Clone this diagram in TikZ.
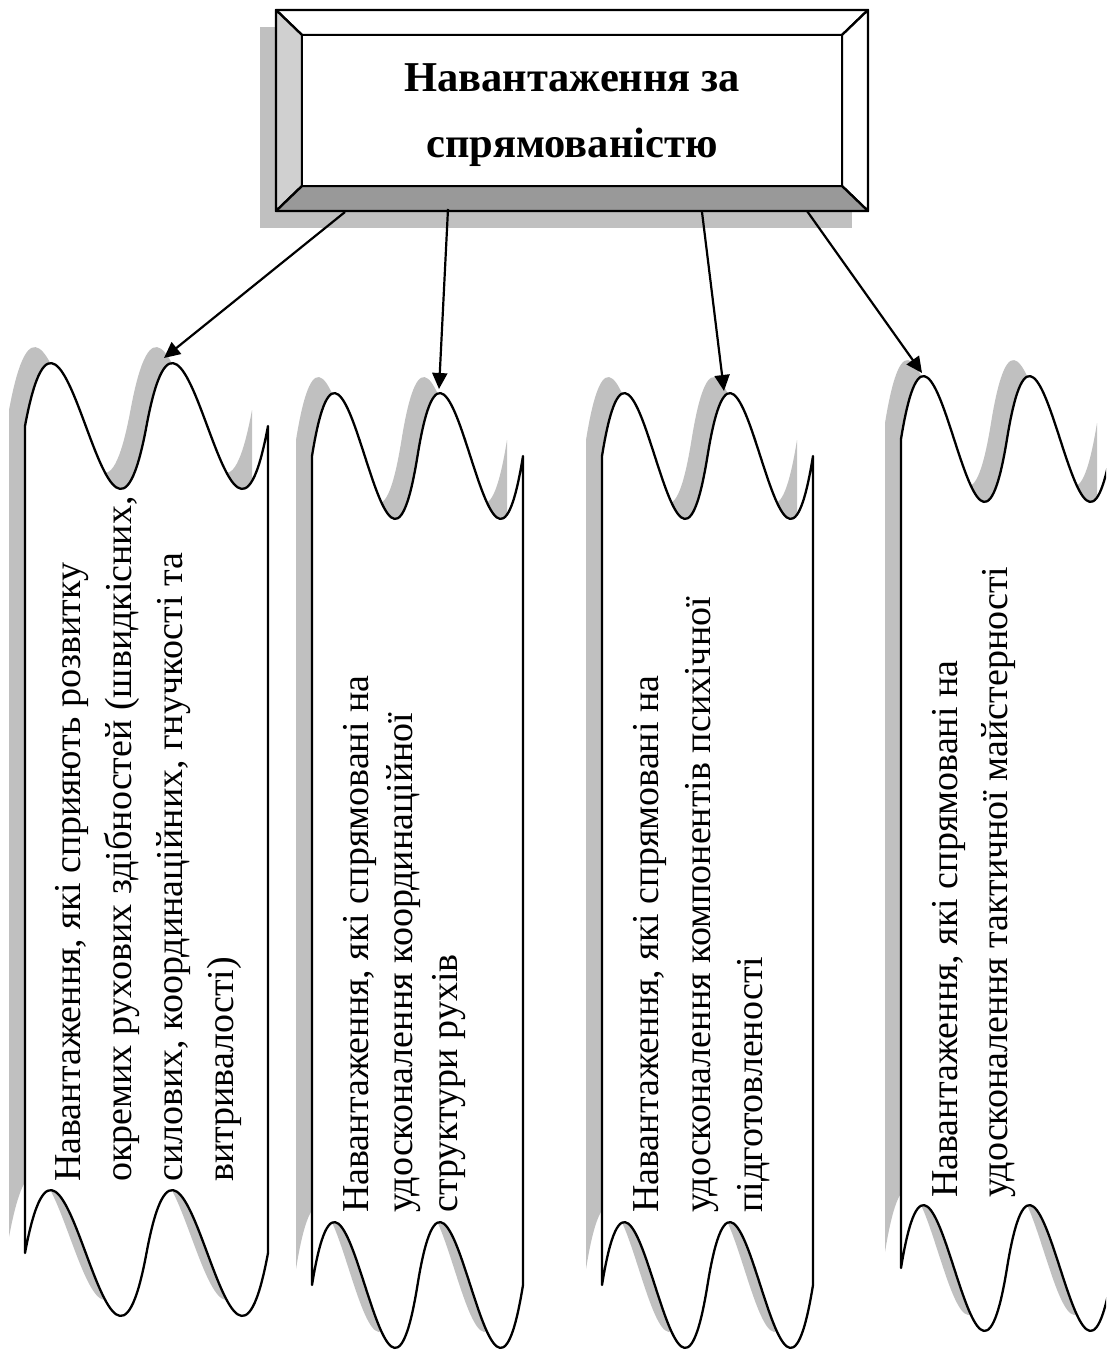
\documentclass[tikz,border=0pt]{standalone}
\usepackage{fontspec}
\setmainfont{Liberation Serif}
\usetikzlibrary{arrows.meta}

\definecolor{shadowgray}{RGB}{192,192,192}
\definecolor{bevelleft}{RGB}{208,208,208}
\definecolor{bevelbottom}{RGB}{153,153,153}

\tikzset{
  outline/.style={draw=black, line width=2.3pt, line join=round},
  link/.style={draw=black, line width=2.2pt, -{Triangle[length=16pt,width=15pt]}},
  wavetext/.style={rotate=90, anchor=north west, inner sep=0pt, align=left},
  headtext/.style={anchor=north, inner sep=0pt, align=center,
                   font=\bfseries\fontsize{42.5}{66}\selectfont},
}

% Banner with two wavy edges: #1 left x, #2 right x, #3 mid line of the
% upper wave, #4 mid line of the lower wave. Each wave is two cubic periods.
\newcommand\wavebanner[4]{%
  \pgfmathsetmacro\wvB{#1+(#2-#1)/6}%
  \pgfmathsetmacro\wvC{#1+(#2-#1)/3}%
  \pgfmathsetmacro\wvD{#1+(#2-#1)/2}%
  \pgfmathsetmacro\wvE{#1+2*(#2-#1)/3}%
  \pgfmathsetmacro\wvF{#1+5*(#2-#1)/6}%
  \pgfmathsetmacro\wvTU{#3-218}\pgfmathsetmacro\wvTD{#3+218}%
  \pgfmathsetmacro\wvBU{#4-218}\pgfmathsetmacro\wvBD{#4+218}%
  \fill[shadowgray, shift={(-16,-16)}]
    (#1,#3) .. controls (\wvB,\wvTU) and (\wvC,\wvTD) .. (\wvD,#3)
            .. controls (\wvE,\wvTU) and (\wvF,\wvTD) .. (#2,#3)
    -- (#2,#4) .. controls (\wvF,\wvBD) and (\wvE,\wvBU) .. (\wvD,#4)
               .. controls (\wvC,\wvBD) and (\wvB,\wvBU) .. (#1,#4) -- cycle;
  \path[outline, fill=white]
    (#1,#3) .. controls (\wvB,\wvTU) and (\wvC,\wvTD) .. (\wvD,#3)
            .. controls (\wvE,\wvTU) and (\wvF,\wvTD) .. (#2,#3)
    -- (#2,#4) .. controls (\wvF,\wvBD) and (\wvE,\wvBU) .. (\wvD,#4)
               .. controls (\wvC,\wvBD) and (\wvB,\wvBU) .. (#1,#4) -- cycle;
}

\begin{document}
\begin{tikzpicture}[x=1pt, y=-1pt]
  \clip (0,0) rectangle (1106,1351);
  \fill[white] (0,0) rectangle (1106,1351);

  % bevelled heading box
  \coordinate (bo1) at (276,10);  \coordinate (bo2) at (868,10);
  \coordinate (bo3) at (868,211); \coordinate (bo4) at (276,211);
  \coordinate (bi1) at (302,35);  \coordinate (bi2) at (842,35);
  \coordinate (bi3) at (842,186); \coordinate (bi4) at (302,186);
  \fill[shadowgray] (260,27) rectangle (852,228);
  \path[outline, fill=white] (bo1) -- (bo2) -- (bi2) -- (bi1) -- cycle;
  \path[outline, fill=white] (bo2) -- (bo3) -- (bi3) -- (bi2) -- cycle;
  \path[outline, fill=bevelleft] (bo1) -- (bi1) -- (bi4) -- (bo4) -- cycle;
  \path[outline, fill=bevelbottom] (bo4) -- (bi4) -- (bi3) -- (bo3) -- cycle;
  \path[outline, fill=white] (bi1) rectangle (bi3);
  \node[headtext] (title) at (572,63) {Навантаження за\\спрямованістю};

  % four wavy banners
  \wavebanner{25}{268}{426}{1253}
  \wavebanner{312}{523}{456}{1285}
  \wavebanner{602}{813}{456}{1285}
  \wavebanner{901}{1113}{439}{1268}

  \node[wavetext, font=\fontsize{38}{51}\selectfont] (t1) at (55,1182)
    {Навантаження, які сприяють розвитку\\окремих рухових здібностей (швидкісних,\\силових, координаційних, гнучкості та\\витривалості)};
  \node[wavetext, font=\fontsize{38}{44.5}\selectfont] (t2) at (343,1213)
    {Навантаження, які спрямовані на\\удосконалення координаційної\\структури рухів};
  \node[wavetext, font=\fontsize{38}{52}\selectfont] (t3) at (633,1213)
    {Навантаження, які спрямовані на\\удосконалення компонентів психічної\\підготовленості};
  \node[wavetext, font=\fontsize{38}{50}\selectfont] (t4) at (932,1198)
    {Навантаження, які спрямовані на\\удосконалення тактичної майстерності};

  % connectors from the heading to the banners
  \coordinate (s1) at (345,212); \coordinate (e1) at (164,358);
  \coordinate (s2) at (448,209); \coordinate (e2) at (439,389);
  \coordinate (s3) at (702,212); \coordinate (e3) at (724,391);
  \coordinate (s4) at (807,211); \coordinate (e4) at (922,373);
  \draw[link] (s1) -- (e1);
  \draw[link] (s2) -- (e2);
  \draw[link] (s3) -- (e3);
  \draw[link] (s4) -- (e4);
\end{tikzpicture}
\end{document}
